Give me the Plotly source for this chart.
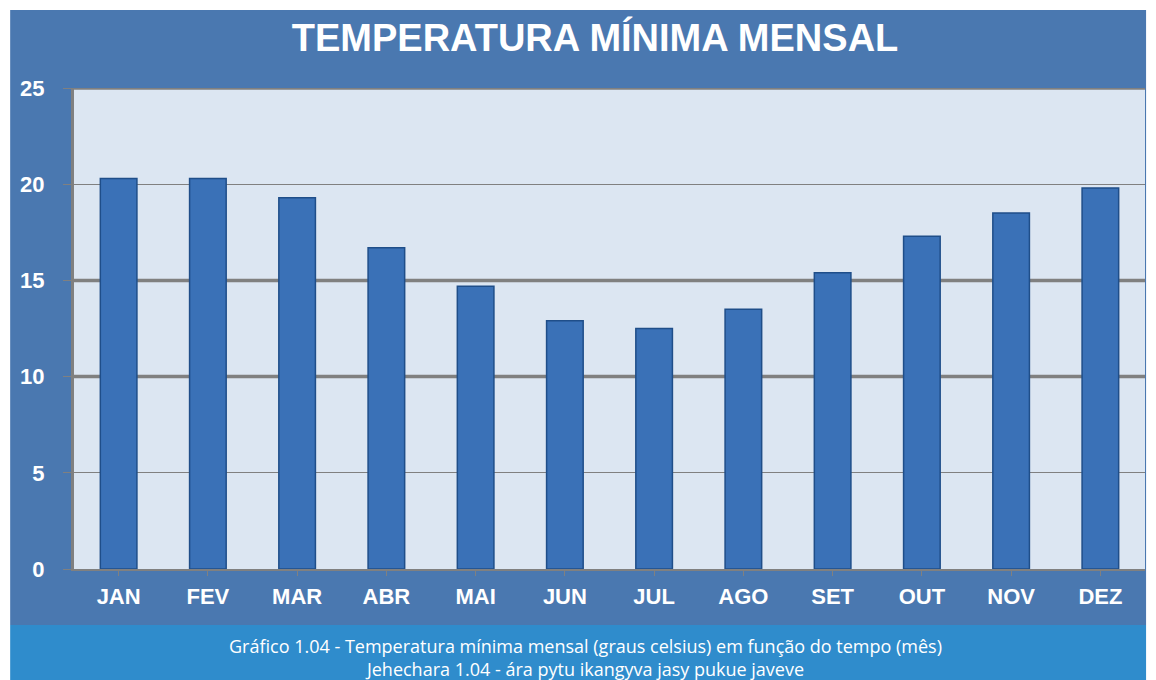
import plotly.graph_objects as go

# Data
months = ["JAN", "FEV", "MAR", "ABR", "MAI", "JUN", "JUL", "AGO", "SET", "OUT", "NOV", "DEZ"]
temp_min = [20.3, 20.3, 19.3, 16.7, 14.7, 12.9, 12.5, 13.5, 15.4, 17.3, 18.5, 19.8]
y_ticks = [0, 5, 10, 15, 20, 25]
thick_lines = [10, 15, 25]

title_text = "TEMPERATURA MÍNIMA MENSAL"
caption = ("Gráfico 1.04 - Temperatura mínima mensal (graus celsius) em função do tempo (mês)<br>"
           "Jehechara 1.04 - ára pytu ikangyva jasy pukue javeve")

PANEL = "#4a78b0"
CAPTION_BG = "#2f8ccc"
PLOT_BG = "#dce6f2"
GRID = "#808080"

fig = go.Figure()

fig.add_trace(go.Bar(
    x=months,
    y=temp_min,
    width=0.41,
    marker=dict(color="#3a71b7", line=dict(color="#1f4e89", width=1.5)),
    showlegend=False,
))

# page body has an 8px offset, so the figure is laid out 8px up/left
shapes = [
    # outer dark blue panel
    dict(type="rect", xref="paper", yref="paper", x0=-0.0596, x1=1.001, y0=-0.1164, y1=1.162,
         fillcolor=PANEL, line=dict(width=0), layer="below"),
    # caption band
    dict(type="rect", xref="paper", yref="paper", x0=-0.0596, x1=1.001, y0=-0.2308, y1=-0.1164,
         fillcolor=CAPTION_BG, line=dict(width=0), layer="below"),
    # light plot area
    dict(type="rect", xref="paper", yref="paper", x0=0, x1=1, y0=0, y1=1,
         fillcolor=PLOT_BG, line=dict(width=0), layer="below"),
]
for v in thick_lines:
    shapes.append(dict(type="line", xref="paper", yref="y", x0=0, x1=1, y0=v, y1=v,
                       line=dict(color=GRID, width=3.5), layer="below"))

tick_font = dict(size=22, color="white", family="Liberation Sans, Arial", weight="bold")

fig.update_layout(
    width=1156,
    height=680,
    margin=dict(l=63, r=19, t=80, b=119),
    paper_bgcolor="white",
    plot_bgcolor=PLOT_BG,
    shapes=shapes,
    font=dict(family="Liberation Sans, Arial, sans-serif", color="white"),
    title=dict(text="<b>" + title_text + "</b>", x=0.4865, xref="paper", xanchor="center",
               y=1 - 30 / 680, yref="container", yanchor="middle",
               font=dict(size=38, color="white")),
    annotations=[dict(text=caption, xref="paper", yref="paper", x=0.4777, y=-0.183,
                      xanchor="center", yanchor="middle", showarrow=False,
                      font=dict(family="Open Sans, sans-serif", size=18, color="white"))],
    xaxis=dict(
        showgrid=False,
        showline=True, linecolor=GRID, linewidth=2,
        ticks="outside", tickcolor=GRID, ticklen=5,
        tickfont=tick_font,
        ticklabelstandoff=2,
    ),
    yaxis=dict(
        range=[0, 25],
        tickvals=y_ticks,
        showgrid=True, gridcolor=GRID, gridwidth=1.2,
        zeroline=False,
        showline=True, linecolor=GRID, linewidth=3,
        ticks="outside", tickcolor=GRID, ticklen=8,
        tickfont=tick_font,
        ticklabelstandoff=14,
    ),
)

fig.write_html("out.html")
